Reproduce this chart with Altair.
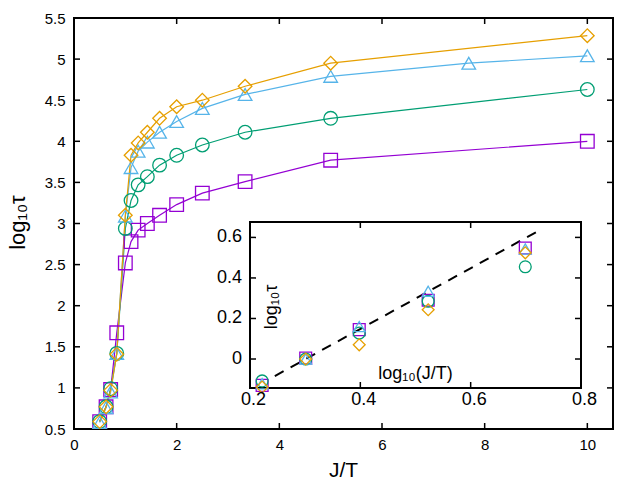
import altair as alt
import pandas as pd

# ---------------- data ----------------
series = ["S1", "S2", "S3", "S4"]
colors = ["#9400D3", "#009E73", "#56B4E9", "#E69F00"]
shapes = ["square", "circle", "triangle-up", "diamond"]

jt = [0.5, 0.625, 0.714, 0.833, 1.0, 1.111, 1.25, 1.429, 1.667, 2.0, 2.5, 3.333, 5.0, 10.0]
jt_tri = [0.5, 0.625, 0.714, 0.833, 1.0, 1.111, 1.25, 1.429, 1.667, 2.0, 2.5, 3.333, 5.0, 7.69, 10.0]

tau_sq = [0.59, 0.77, 0.98, 1.67, 2.52, 2.78, 2.92, 3.00, 3.10, 3.23, 3.37, 3.51, 3.77, 4.00]
tau_ci = [0.59, 0.77, 0.99, 1.42, 2.94, 3.28, 3.47, 3.57, 3.71, 3.83, 3.955, 4.11, 4.28, 4.63]
tau_tr = [0.58, 0.76, 0.95, 1.42, 3.09, 3.68, 3.88, 3.99, 4.11, 4.24, 4.40, 4.57, 4.79, 4.95, 5.04]
tau_di = [0.59, 0.77, 0.97, 1.41, 3.10, 3.83, 3.98, 4.11, 4.28, 4.42, 4.50, 4.67, 4.95, 5.285]

in_x = [0.222, 0.301, 0.398, 0.523, 0.699]
in_sq = [-0.13, 0.005, 0.145, 0.29, 0.548]
in_ci = [-0.108, 0.0, 0.128, 0.285, 0.455]
in_tr = [-0.122, 0.0, 0.16, 0.334, 0.543]
in_di = [-0.138, 0.0, 0.07, 0.243, 0.524]

fit_x = [0.245, 0.72]
fit_y = [-0.084, 0.628]

main_xticks = [0, 2, 4, 6, 8, 10]
main_yticks = [0.5, 1, 1.5, 2, 2.5, 3, 3.5, 4, 4.5, 5, 5.5]
in_xticks = [0.2, 0.4, 0.6, 0.8]
in_yticks = [0, 0.2, 0.4, 0.6]
in_ylabels = ["0", "0.2", "0.4", "0.6"]

main_xtitle = "J/T"
main_ytitle = "log₁₀τ"
in_xtitle = "log₁₀(J/T)"
in_ytitle = "log₁₀τ"

# ---------------- tables ----------------
main_rows = []
for name, xs, ys in [("S1", jt, tau_sq), ("S2", jt, tau_ci), ("S3", jt_tri, tau_tr), ("S4", jt, tau_di)]:
    for x, y in zip(xs, ys):
        main_rows.append({"series": name, "jt": x, "tau": y})
main_df = pd.DataFrame(main_rows)

in_rows = []
for name, ys in [("S1", in_sq), ("S2", in_ci), ("S3", in_tr), ("S4", in_di)]:
    for x, y in zip(in_x, ys):
        in_rows.append({"series": name, "lx": x, "ly": y})
in_df = pd.DataFrame(in_rows)

fit_df = pd.DataFrame({"lx": fit_x, "ly": fit_y})
mxt = pd.DataFrame({"v": main_xticks})
myt = pd.DataFrame({"v": main_yticks})
ixt = pd.DataFrame({"v": in_xticks[1:-1]})
iyt = pd.DataFrame({"v": in_yticks, "lab": in_ylabels})
one = pd.DataFrame({"a": [0]})

# ---------------- layout constants ----------------
W, H = 539, 411
IX0, IX1, IY0, IY1 = 176, 507, 204, 370  # inset frame in plot pixels
TK = 6
FONT = "Liberation Sans"

def xs_main():
    return alt.Scale(domain=[0, 10.5], nice=False, zero=False)

def ys_main():
    return alt.Scale(domain=[0.5, 5.5], nice=False, zero=False)

def xs_in():
    return alt.Scale(domain=[0.2, 0.8], range=[IX0, IX1], nice=False, zero=False)

def ys_in():
    return alt.Scale(domain=[-0.143, 0.676], range=[IY1, IY0], nice=False, zero=False)

color = alt.Color("series:N", scale=alt.Scale(domain=series, range=colors), legend=None)
shape = alt.Shape("series:N", scale=alt.Scale(domain=series, range=shapes), legend=None)

# ---------------- main plot ----------------
x_axis = alt.Axis(values=main_xticks, format="d", labelFontSize=15, labelPadding=8,
                  labelFlush=False, domain=False, ticks=False, grid=False,
                  title=main_xtitle, titleFontSize=21, titleFontWeight="normal",
                  titleX=269, titleY=47, titleAlign="center", titleBaseline="alphabetic",
                  labelColor="black", titleColor="black")
y_axis = alt.Axis(values=main_yticks, format=".1~f", labelFontSize=15, labelPadding=9,
                  labelFlush=False, domain=False, ticks=False, grid=False,
                  title=main_ytitle, titleFontSize=22, titleFontWeight="normal",
                  titleX=-57, titleY=204, titleAngle=270, titleAlign="center",
                  titleBaseline="middle", labelColor="black", titleColor="black")

main_lines = alt.Chart(main_df).mark_line(strokeWidth=1.2).encode(
    x=alt.X("jt:Q", scale=xs_main(), axis=x_axis),
    y=alt.Y("tau:Q", scale=ys_main(), axis=y_axis),
    color=color,
    detail="series:N",
)
main_points = alt.Chart(main_df).mark_point(filled=False, size=185, strokeWidth=1.3, opacity=1).encode(
    x=alt.X("jt:Q", scale=xs_main(), axis=None),
    y=alt.Y("tau:Q", scale=ys_main(), axis=None),
    color=color,
    shape=shape,
)

def xrule(df, scale, y0, y1):
    return alt.Chart(df).mark_rule(color="black", strokeWidth=1.5).encode(
        x=alt.X("v:Q", scale=scale, axis=None), y=alt.value(y0), y2=alt.value(y1))

def yrule(df, scale, x0, x1):
    return alt.Chart(df).mark_rule(color="black", strokeWidth=1.5).encode(
        y=alt.Y("v:Q", scale=scale, axis=None), x=alt.value(x0), x2=alt.value(x1))

# ---------------- inset ----------------
ix_axis = alt.Axis(orient="bottom", offset=-(H - IY1), values=in_xticks, format=".1~f",
                   labelFontSize=18, labelPadding=2, labelOffset=3, labelFlush=False,
                   domain=False, ticks=False, grid=False, title=in_xtitle, titleFontSize=18,
                   titleFontWeight="normal", titleX=341, titleY=-15, titleAlign="center",
                   titleBaseline="middle", zindex=1, labelColor="black", titleColor="black")

frame = alt.Chart(one).mark_rect(fill="white", stroke="black", strokeWidth=2).encode(
    x=alt.value(IX0), x2=alt.value(IX1), y=alt.value(IY0), y2=alt.value(IY1))

fit_line = alt.Chart(fit_df).mark_line(color="black", strokeWidth=2, strokeDash=[10, 8]).encode(
    x=alt.X("lx:Q", scale=xs_in(), axis=ix_axis),
    y=alt.Y("ly:Q", scale=ys_in(), axis=None),
)
in_points = alt.Chart(in_df).mark_point(filled=False, size=140, strokeWidth=1.3, opacity=1).encode(
    x=alt.X("lx:Q", scale=xs_in(), axis=None),
    y=alt.Y("ly:Q", scale=ys_in(), axis=None),
    color=color,
    shape=shape,
)
in_ylab = alt.Chart(iyt).mark_text(font=FONT, fontSize=18, align="right", baseline="middle",
                                   color="black").encode(
    y=alt.Y("v:Q", scale=ys_in(), axis=None),
    x=alt.value(IX0 - 8),
    text="lab:N",
)
in_ytit = alt.Chart(one).mark_text(font=FONT, fontSize=18, align="center", baseline="middle",
                                   angle=270, color="black").encode(
    x=alt.value(IX0 + 22), y=alt.value(289), text=alt.value(in_ytitle))

chart = alt.layer(
    main_lines, main_points,
    xrule(mxt, xs_main(), H, H - TK), xrule(mxt, xs_main(), 0, TK),
    yrule(myt, ys_main(), 0, TK), yrule(myt, ys_main(), W, W - TK),
    frame, fit_line, in_points,
    xrule(ixt, xs_in(), IY1, IY1 - TK), xrule(ixt, xs_in(), IY0, IY0 + TK),
    yrule(iyt, ys_in(), IX0, IX0 + TK), yrule(iyt, ys_in(), IX1, IX1 - TK),
    in_ylab, in_ytit,
).resolve_scale(
    x="independent", y="independent"
).properties(
    width=W, height=H,
    padding={"left": 74, "top": 18, "right": 27, "bottom": 51},
    autosize=alt.AutoSizeParams(type="none"),
    background="white",
).configure_view(
    stroke="black", strokeWidth=2
).configure_axis(
    labelFont=FONT, titleFont=FONT
)

chart.save("out.html", embed_options={"renderer": "svg", "actions": False})
